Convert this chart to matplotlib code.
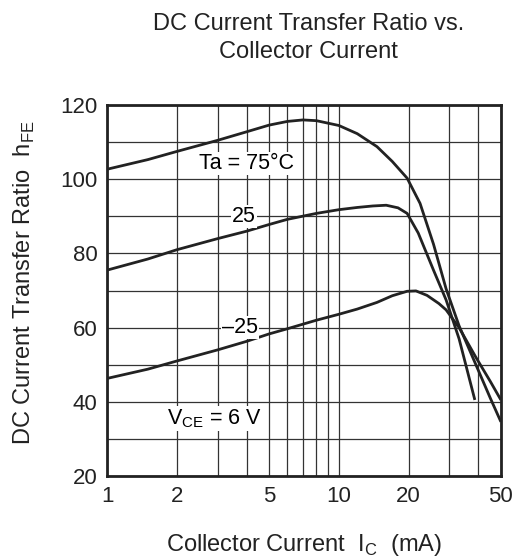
"""DC current transfer ratio vs. collector current (datasheet style)."""

import matplotlib
matplotlib.use("Agg")
import matplotlib.pyplot as plt
from matplotlib.ticker import FixedLocator, NullFormatter, NullLocator

plt.rcParams["font.family"] = ["Liberation Sans", "DejaVu Sans"]

# curves: collector current (mA) -> hFE
ic_75 = [1, 1.5, 2, 3, 4, 5, 6, 7, 8, 10, 12, 14.6, 17, 19.7, 22.4, 25.6, 29, 33, 39, 45, 50]
hfe_75 = [102.7, 105.3, 107.5, 110.5, 112.8, 114.6, 115.6, 116.0, 115.8, 114.5, 112.3, 108.8, 104.8, 100.3, 93.5, 82.5, 70.5, 60.5, 50.0, 41.0, 34.6]

ic_25 = [1, 1.5, 2, 3, 4, 5, 6, 8, 10, 12, 14, 16, 18, 19.7, 22, 25.6, 29, 33, 38.6]
hfe_25 = [75.5, 78.5, 81.0, 84.0, 86.0, 87.8, 89.2, 90.8, 91.8, 92.4, 92.8, 93.0, 92.3, 90.8, 85.5, 75.5, 67.5, 57.0, 40.5]

ic_m25 = [1, 1.5, 2, 3, 4, 5, 6, 8, 10, 12, 14.6, 17, 19.7, 21.5, 24, 27, 29, 33, 39, 45, 50]
hfe_m25 = [46.3, 48.8, 51.0, 54.0, 56.3, 58.3, 59.7, 62.0, 63.6, 65.0, 66.8, 68.6, 69.8, 69.9, 68.7, 66.5, 64.8, 60.0, 52.0, 45.5, 40.5]

x_ticks = [1, 2, 5, 10, 20, 50]
x_grid = [1, 2, 3, 4, 5, 6, 7, 8, 9, 10, 20, 30, 40, 50]
y_ticks = [20, 40, 60, 80, 100, 120]
y_grid = [20, 30, 40, 50, 60, 70, 80, 90, 100, 110, 120]

fig = plt.figure(figsize=(5.18, 5.59), dpi=100)
ax = fig.add_axes([0.2066, 0.1485, 0.7604, 0.6635])

ax.set_xscale("log")
ax.set_xlim(1, 50)
ax.set_ylim(20, 120)

for xv in x_grid:
    ax.axvline(xv, color="#333333", lw=0.9, zorder=1)
for yv in y_grid:
    ax.axhline(yv, color="#333333", lw=0.9, zorder=1)

for ic, hfe in [(ic_75, hfe_75), (ic_25, hfe_25), (ic_m25, hfe_m25)]:
    ax.plot(ic, hfe, color="#222222", lw=2.0, solid_capstyle="butt", zorder=3)

box = dict(facecolor="white", edgecolor="none", pad=1.0)
ax.text(4.0, 104.3, "Ta = 75°C", fontsize=15.5, ha="center", va="center", bbox=box, zorder=4)
ax.text(3.9, 90, "25", fontsize=15.5, ha="center", va="center", bbox=box, zorder=4)
ax.text(3.75, 60, "\u201325", fontsize=15.5, ha="center", va="center", bbox=box, zorder=4)
ax.text(2.9, 35.5, r"V$_{\mathregular{CE}}$ = 6 V", fontsize=15.5, ha="center", va="center",
        bbox=box, zorder=4)

ax.xaxis.set_major_locator(FixedLocator(x_ticks))
ax.xaxis.set_minor_locator(NullLocator())
ax.xaxis.set_minor_formatter(NullFormatter())
ax.set_xticklabels([str(v) for v in x_ticks])
ax.set_yticks(y_ticks)
ax.tick_params(length=0, labelsize=16, pad=7, colors="#222222")

for sp in ax.spines.values():
    sp.set_linewidth(2.0)
    sp.set_color("#222222")
    sp.set_zorder(5)

ax.set_xlabel(r"Collector Current  I$_{\mathregular{C}}$  (mA)", fontsize=17, color="#222222")
ax.set_ylabel(r"DC Current Transfer Ratio  h$_{\mathregular{FE}}$", fontsize=17, color="#222222")
ax.xaxis.set_label_coords(0.5, -0.15)
ax.yaxis.set_label_coords(-0.178, 0.522)

fig.text(0.595, 0.932, "DC Current Transfer Ratio vs.\nCollector Current", fontsize=17,
         ha="center", va="center", linespacing=1.3, color="#222222")

fig.savefig("out.png", dpi=100)
